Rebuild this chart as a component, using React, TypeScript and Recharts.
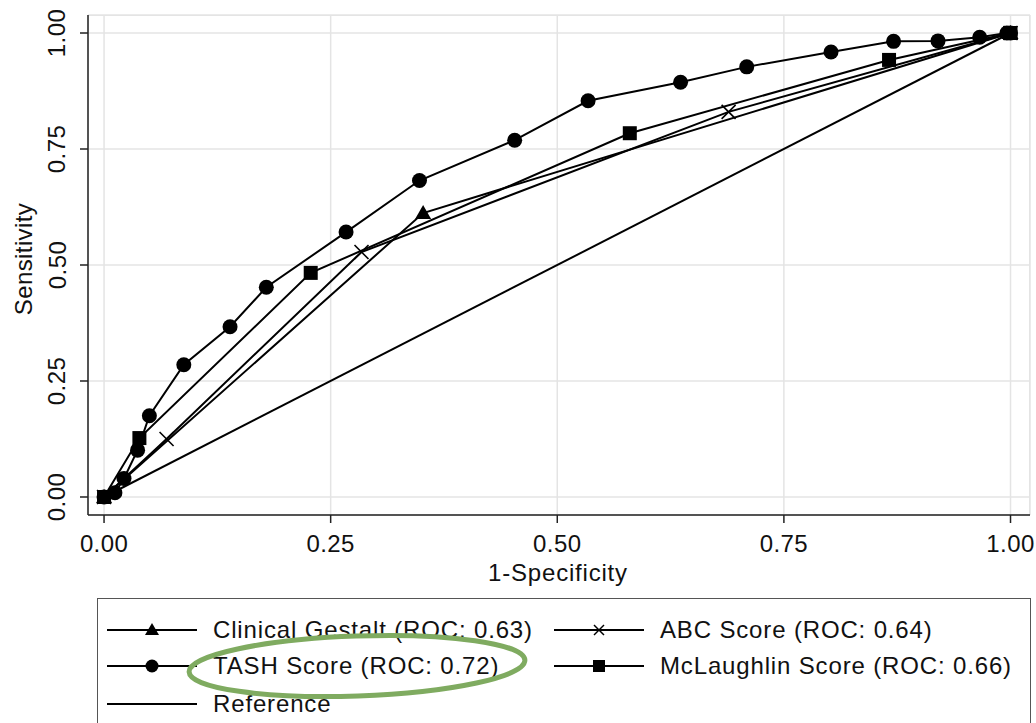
import React from "react";
import { ScatterChart, Scatter, XAxis, YAxis, CartesianGrid } from "recharts";

const tashX = [0, 0.012, 0.022, 0.037, 0.05, 0.088, 0.139, 0.179, 0.267, 0.348, 0.453, 0.534, 0.636, 0.709, 0.802, 0.871, 0.92, 0.966, 0.996, 1];
const tashY = [0, 0.009, 0.04, 0.101, 0.175, 0.285, 0.367, 0.452, 0.571, 0.682, 0.769, 0.854, 0.894, 0.927, 0.959, 0.982, 0.983, 0.991, 1.0, 1];
const gestaltX = [0, 0.352, 1];
const gestaltY = [0, 0.612, 1];
const abcX = [0, 0.069, 0.284, 0.689, 1];
const abcY = [0, 0.125, 0.528, 0.83, 1];
const mclX = [0, 0.039, 0.228, 0.58, 0.866, 1];
const mclY = [0, 0.127, 0.483, 0.784, 0.942, 1];
const refX = [0, 1];
const refY = [0, 1];
const ticks = [0, 0.25, 0.5, 0.75, 1];
const tickLabels = ["0.00", "0.25", "0.50", "0.75", "1.00"];
const legendLabels = [
  "Clinical Gestalt (ROC: 0.63)",
  "ABC Score (ROC: 0.64)",
  "TASH Score (ROC: 0.72)",
  "McLaughlin Score (ROC: 0.66)",
  "Reference",
];

const zip = (xs: number[], ys: number[]) => xs.map((x, i) => ({ x, y: ys[i] }));

const FONT = "'Liberation Sans', Arial, Helvetica, sans-serif";
const TXT = "#111";

const Circle = (p: any) => <circle cx={p.cx} cy={p.cy} r={7.5} fill="#000" />;
const Square = (p: any) => <rect x={p.cx - 7} y={p.cy - 7} width={14} height={14} fill="#000" />;
const Tri = (p: any) => (
  <polygon points={`${p.cx},${p.cy - 8} ${p.cx + 8},${p.cy + 6} ${p.cx - 8},${p.cy + 6}`} fill="#000" />
);
const Cross = (p: any) => (
  <g stroke="#000" strokeWidth={1.6}>
    <line x1={p.cx - 7} y1={p.cy - 7} x2={p.cx + 7} y2={p.cy + 7} />
    <line x1={p.cx - 7} y1={p.cy + 7} x2={p.cx + 7} y2={p.cy - 7} />
  </g>
);
const NoMark = () => <g />;

const XTick = (p: any) => {
  const i = ticks.indexOf(p.payload.value);
  return (
    <text x={p.x} y={p.y + 18} textAnchor="middle" dominantBaseline="central" fontSize={24} letterSpacing={0.4} fill={TXT} fontFamily={FONT}>
      {i >= 0 ? tickLabels[i] : ""}
    </text>
  );
};
const YTick = (p: any) => {
  const i = ticks.indexOf(p.payload.value);
  const x = p.x - 21;
  return (
    <text x={x} y={p.y} transform={`rotate(-90, ${x}, ${p.y})`} textAnchor="middle" dominantBaseline="central" fontSize={24} letterSpacing={0.4} fill={TXT} fontFamily={FONT}>
      {i >= 0 ? tickLabels[i] : ""}
    </text>
  );
};

const LegendSample = ({ mark }: { mark: string }) => (
  <svg width={90} height={20} style={{ display: "block" }}>
    <line x1={0} y1={10} x2={90} y2={10} stroke="#000" strokeWidth={2} />
    {mark === "tri" && <polygon points="45,3 52,15 38,15" fill="#000" />}
    {mark === "circle" && <circle cx={45} cy={10} r={6.5} fill="#000" />}
    {mark === "square" && <rect x={39} y={4} width={12} height={12} fill="#000" />}
    {mark === "cross" && (
      <g stroke="#000" strokeWidth={1.5}>
        <line x1={40} y1={5} x2={50} y2={15} />
        <line x1={40} y1={15} x2={50} y2={5} />
      </g>
    )}
  </svg>
);

const LegendItem = ({ left, top, mark, label }: any) => (
  <div style={{ position: "absolute", left, top, display: "flex", alignItems: "center", height: 30 }}>
    <LegendSample mark={mark} />
    <span style={{ marginLeft: 16, fontSize: 24, letterSpacing: 0.85, fontFamily: FONT, color: TXT, whiteSpace: "nowrap" }}>{label}</span>
  </div>
);

export default function App() {
  return (
    <div style={{ position: "fixed", left: 0, top: 0, width: 1036, height: 723, background: "#fff", overflow: "hidden" }}>
      <div style={{ position: "absolute", left: 88, top: 15, width: 941, height: 499, border: "1px solid #e2e2e2", borderLeft: "none", borderBottom: "none" }} />
      <div style={{ position: "absolute", left: 0, top: 0 }}>
        <ScatterChart width={1036} height={723} margin={{ top: 15, right: 6, bottom: 128, left: 18 }}>
          <CartesianGrid stroke="#e4e4e4" strokeWidth={1.5} />
          <XAxis
            type="number"
            dataKey="x"
            domain={[-0.0177, 1.0215]}
            ticks={ticks}
            allowDataOverflow
            height={80}
            tickSize={8}
            tick={<XTick />}
            axisLine={{ stroke: "#222", strokeWidth: 1.5 }}
            tickLine={{ stroke: "#222", strokeWidth: 1.5 }}
          />
          <YAxis
            type="number"
            dataKey="y"
            domain={[-0.0388, 1.0388]}
            ticks={ticks}
            allowDataOverflow
            width={70}
            tickSize={8}
            tick={<YTick />}
            axisLine={{ stroke: "#222", strokeWidth: 1.5 }}
            tickLine={{ stroke: "#222", strokeWidth: 1.5 }}
          />
          <Scatter data={zip(refX, refY)} line={{ stroke: "#000", strokeWidth: 2 }} shape={NoMark} isAnimationActive={false} />
          <Scatter data={zip(gestaltX, gestaltY)} line={{ stroke: "#000", strokeWidth: 2 }} shape={Tri} isAnimationActive={false} />
          <Scatter data={zip(abcX, abcY)} line={{ stroke: "#000", strokeWidth: 2 }} shape={Cross} isAnimationActive={false} />
          <Scatter data={zip(mclX, mclY)} line={{ stroke: "#000", strokeWidth: 2 }} shape={Square} isAnimationActive={false} />
          <Scatter data={zip(tashX, tashY)} line={{ stroke: "#000", strokeWidth: 2 }} shape={Circle} isAnimationActive={false} />
        </ScatterChart>
      </div>
      <div style={{ position: "absolute", left: 0, top: 0, width: 48, height: 518, display: "flex", alignItems: "center", justifyContent: "center" }}>
        <div style={{ transform: "rotate(-90deg)", fontSize: 24, letterSpacing: 0.4, fontFamily: FONT, color: TXT, whiteSpace: "nowrap" }}>Sensitivity</div>
      </div>
      <div style={{ position: "absolute", left: 358, top: 559, width: 400, textAlign: "center", fontSize: 24, letterSpacing: 0.8, fontFamily: FONT, color: TXT }}>1-Specificity</div>
      <div style={{ position: "absolute", left: 97, top: 598, width: 932, height: 200, border: "1.5px solid #555" }} />
      <LegendItem left={107} top={615} mark="tri" label={legendLabels[0]} />
      <LegendItem left={554} top={615} mark="cross" label={legendLabels[1]} />
      <LegendItem left={107} top={651} mark="circle" label={legendLabels[2]} />
      <LegendItem left={554} top={651} mark="square" label={legendLabels[3]} />
      <LegendItem left={107} top={689} mark="none" label={legendLabels[4]} />
      <svg width={1036} height={723} style={{ position: "absolute", left: 0, top: 0, pointerEvents: "none" }}>
        <ellipse cx={357} cy={666} rx={168} ry={30} fill="none" stroke="#7fab60" strokeWidth={5} transform="rotate(-2, 357, 666)" />
      </svg>
    </div>
  );
}
